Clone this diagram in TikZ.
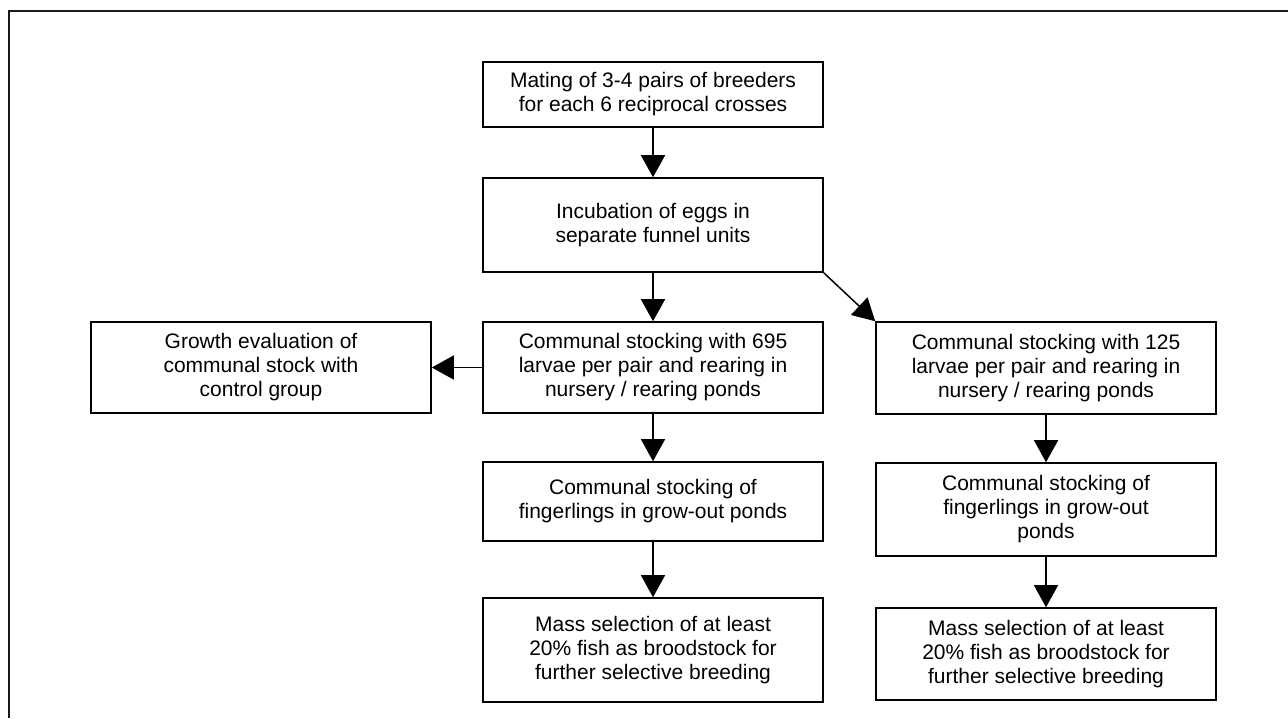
\documentclass[tikz,border=0pt]{standalone}
\usepackage{fontspec}
\setmainfont{Liberation Sans}
\usetikzlibrary{arrows.meta}
\newcommand\boxfont{\fontsize{21}{24}\selectfont}
\tikzset{
  stepbox/.style={draw, line width=1.6pt, minimum width=340pt, align=center, inner sep=0pt, font=\boxfont},
  flow/.style={line width=1.5pt, -{Triangle[length=22pt,width=24pt]}},
  frame/.style={line width=2.6pt, draw=black!90}
}
\begin{document}
\begin{tikzpicture}[x=1pt,y=-1pt]
\useasboundingbox (0,0) rectangle (1288,718);
\draw[frame] (1288,11) -- (9,11) -- (9,718);

\node[stepbox, minimum height=65pt] (mate) at (653,94.5) {Mating of 3-4 pairs of breeders\\for each 6 reciprocal crosses};
\node[stepbox, minimum height=94pt] (incub) at (653,225) {Incubation of eggs in\\separate funnel units};
\node[stepbox, minimum height=91pt] (commL) at (653,367.5) {Communal stocking with 695\\larvae per pair and rearing in\\nursery / rearing ponds};
\node[stepbox, minimum height=91pt] (growth) at (261,367.5) {Growth evaluation of\\communal stock with\\control group};
\node[stepbox, minimum height=79pt] (fingL) at (653,501.5) {Communal stocking of\\fingerlings in grow-out ponds};
\node[stepbox, minimum height=104pt] (massL) at (653,650) {Mass selection of at least\\20\% fish as broodstock for\\further selective breeding};
\node[stepbox, minimum height=92pt] (commR) at (1046,368) {Communal stocking with 125\\larvae per pair and rearing in\\nursery / rearing ponds};
\node[stepbox, minimum height=93pt] (fingR) at (1046,509.5) {Communal stocking of\\fingerlings in grow-out\\ponds};
\node[stepbox, minimum height=92pt] (massR) at (1046,654) {Mass selection of at least\\20\% fish as broodstock for\\further selective breeding};

\draw[flow] (mate) -- (incub);
\draw[flow] (incub) -- (commL);
\draw[flow] (incub.south east) -- (commR.north west);
\draw[flow] (commL) -- (growth);
\draw[flow] (commL) -- (fingL);
\draw[flow] (fingL) -- (massL);
\draw[flow] (commR) -- (fingR);
\draw[flow] (fingR) -- (massR);
\end{tikzpicture}
\end{document}
